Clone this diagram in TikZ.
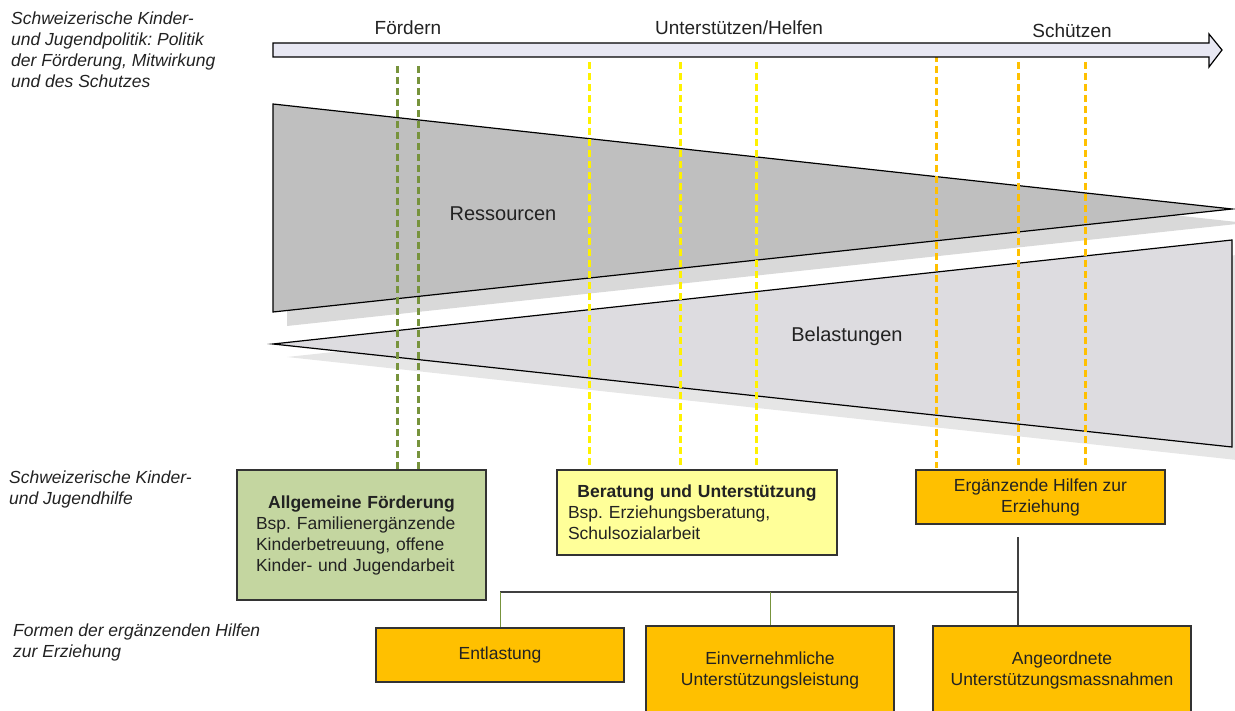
\documentclass[tikz,border=0pt]{standalone}
\usepackage{fontspec}
\setmainfont{Liberation Sans}
\usetikzlibrary{positioning}

\definecolor{arrowfill}{HTML}{E8E8F3}
\definecolor{resfill}{HTML}{BFBFBF}
\definecolor{resshadow}{HTML}{D9D9D9}
\definecolor{belfill}{HTML}{DDDCE0}
\definecolor{belshadow}{HTML}{E6E6E6}
\definecolor{olivedash}{HTML}{77933C}
\definecolor{yellowdash}{HTML}{FFF200}
\definecolor{orangedash}{HTML}{FFC000}
\definecolor{greenbox}{HTML}{C4D6A0}
\definecolor{yellowbox}{HTML}{FFFF99}
\definecolor{orangebox}{HTML}{FFC000}
\definecolor{textgray}{HTML}{222222}

\newcommand{\txtsize}{\fontsize{17.5}{21}\selectfont}
\newcommand{\bigsize}{\fontsize{19}{22}\selectfont}
\frenchspacing

\begin{document}
\begin{tikzpicture}[x=1pt,y=-1pt,
  sidelabel/.style={anchor=north west,align=left,font=\txtsize\itshape,text=textgray,inner sep=0pt},
  toplabel/.style={font=\bigsize,text=textgray,inner sep=0pt},
  hilfebox/.style={draw=black!80,line width=1.5pt,font=\txtsize,text=textgray,inner sep=0pt},
  dashline/.style={line width=3pt,dash pattern=on 7pt off 4pt},
  bus/.style={line width=1.2pt,draw=black!75},
  twig/.style={line width=0.8pt,draw=olivedash}]

\useasboundingbox (0,0) rectangle (1235,711) ;

% left side labels
\node[sidelabel] (lbl_politik) at (11,12) {Schweizerische Kinder-\\und Jugendpolitik: Politik\\der Förderung, Mitwirkung\\und des Schutzes} ;
\node[sidelabel] (lbl_hilfe) at (9,471) {Schweizerische Kinder-\\und Jugendhilfe} ;
\node[sidelabel] (lbl_formen) at (13,624) {Formen der ergänzenden Hilfen\\zur Erziehung} ;

% shadows
\fill[resshadow] (287,118) -- (1246,223) -- (287,326) -- cycle ;
\fill[belshadow] (287,357) -- (1246,254) -- (1246,461) -- cycle ;

% the two wedges
\draw[fill=resfill,line width=1.2pt] (273,104) -- (1232,209) -- (273,312) -- cycle ;
\draw[fill=belfill,line width=1.2pt] (273,344) -- (1232,240) -- (1232,447) -- cycle ;

\node[toplabel,font=\fontsize{20}{24}\selectfont] (ressourcen) at (503,214) {Ressourcen} ;
\node[toplabel,font=\fontsize{20}{24}\selectfont] (belastungen) at (847,336) {Belastungen} ;

% dashed guides
\foreach \xx in {397,418}
  \draw[dashline,olivedash] (\xx,66) -- (\xx,470) ;
\foreach \xx in {589,680,756}
  \draw[dashline,yellowdash] (\xx,62) -- (\xx,470) ;
\draw[dashline,orangedash] (936,44) -- (936,468) ;
\foreach \xx in {1018,1085}
  \draw[dashline,orangedash] (\xx,62) -- (\xx,468) ;

% axis arrow
\draw[fill=arrowfill,line width=1.2pt] (273,43) -- (1209,43) -- (1209,34) -- (1222,50)
  -- (1209,67) -- (1209,57) -- (273,57) -- cycle ;

\node[toplabel] (foerdern) at (408,28) {Fördern} ;
\node[toplabel] (helfen) at (739,28) {Unterstützen/Helfen} ;
\node[toplabel] (schuetzen) at (1072,31) {Schützen} ;

% boxes of the Kinder- und Jugendhilfe
\node[hilfebox,fill=greenbox,minimum width=249pt,minimum height=130pt,
  text width=211pt,align=left] (allgemein) at (361.5,535)
  {\makebox[\linewidth]{\bfseries Allgemeine Förderung}\\Bsp. Familienergänzende\\Kinderbetreuung, offene\\Kinder- und Jugendarbeit} ;
\node[hilfebox,fill=yellowbox,minimum width=280pt,minimum height=85pt,
  text width=258pt,align=left] (beratung) at (697,512.5)
  {\makebox[\linewidth]{\bfseries Beratung und Unterstützung}\\Bsp. Erziehungsberatung,\\Schulsozialarbeit} ;
\node[hilfebox,fill=orangebox,minimum width=249pt,minimum height=54pt,
  align=center] (ergaenzend) at (1040.5,497)
  {Ergänzende Hilfen zur\\Erziehung} ;

% forms of the supplementary help
\node[hilfebox,fill=orangebox,minimum width=248pt,minimum height=54pt] (entlastung) at (500,655) {Entlastung} ;
\node[hilfebox,fill=orangebox,minimum width=248pt,minimum height=88pt,align=center] (einvernehmlich) at (770,670)
  {Einvernehmliche\\Unterstützungsleistung} ;
\node[hilfebox,fill=orangebox,minimum width=258pt,minimum height=88pt,align=center] (angeordnet) at (1062,670)
  {Angeordnete\\Unterstützungsmassnahmen} ;

% connectors
\coordinate (stem_top) at (1018,537) ;
\coordinate (stem_bus) at (1018,592) ;
\coordinate (bus_left) at (entlastung.north |- stem_bus) ;
\coordinate (bus_mid) at (einvernehmlich.north |- stem_bus) ;

\draw[bus] (stem_top) -- (stem_top |- angeordnet.north) ;
\draw[bus] (bus_left) -- (stem_bus) ;
\draw[twig] (bus_left) -- (entlastung.north) ;
\draw[twig] (bus_mid) -- (einvernehmlich.north) ;

\end{tikzpicture}
\end{document}
